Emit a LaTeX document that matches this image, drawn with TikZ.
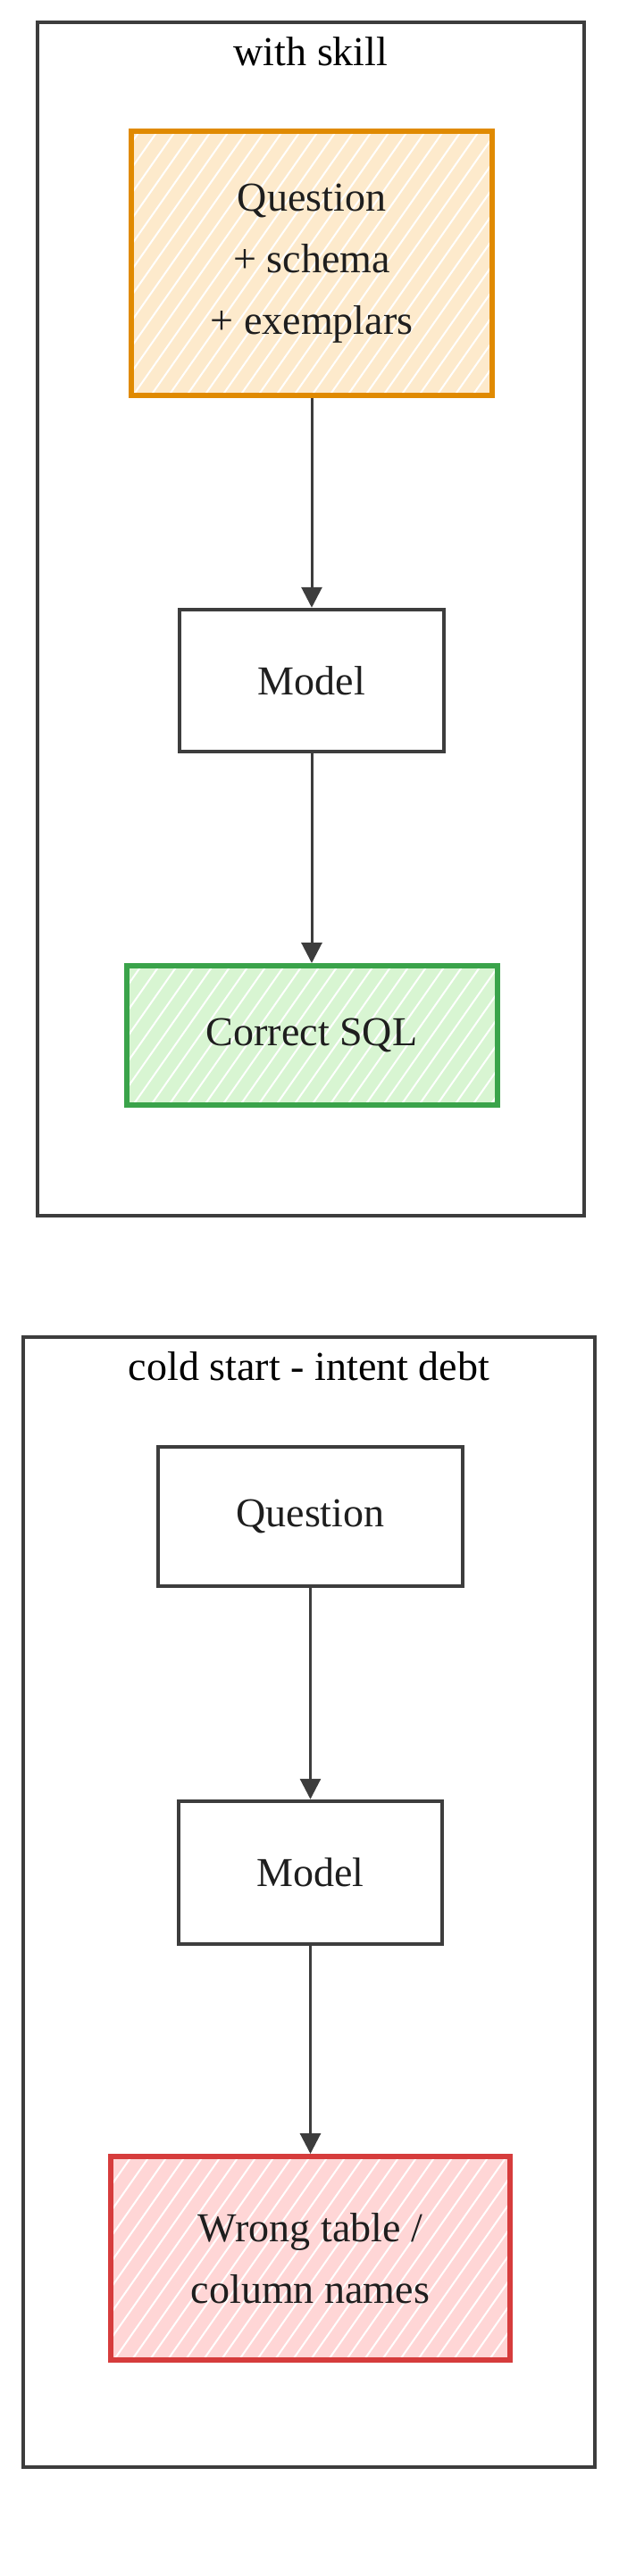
\documentclass[tikz,border=0pt]{standalone}
\usepackage{fontspec}
\setmainfont{Liberation Serif}
\usepackage{tikz}
\usetikzlibrary{arrows.meta}
\definecolor{dgray}{RGB}{61, 61, 61}
\definecolor{ink}{RGB}{30, 30, 30}
\definecolor{lorange}{RGB}{253, 234, 204}
\definecolor{dorange}{RGB}{224, 138, 0}
\definecolor{lgreen}{RGB}{216, 245, 210}
\definecolor{dgreen}{RGB}{58, 163, 74}
\definecolor{lred}{RGB}{255, 214, 214}
\definecolor{dred}{RGB}{214, 60, 60}

\tikzset{
	frame/.style = {rectangle, draw = dgray, line width = 0.08cm, inner sep = 0pt},
	box/.style = {rectangle, draw = dgray, line width = 0.09cm, inner sep = 0pt, align = center, text = ink},
	hatch/.style = {path picture = {\foreach \k in {-30,...,30} \draw[white, line width = 0.04cm] ([xshift = \k*0.4cm]path picture bounding box.south) -- ++(55:14cm);}},
	flow/.style = {-{Triangle[length = 0.46cm, width = 0.46cm]}, draw = dgray, line width = 0.06cm}
}

\begin{document}
\begin{tikzpicture}[font = \fontsize{26.2}{39.3}\selectfont]
			\useasboundingbox (0,0) rectangle (14.4,-57.72);
			% with skill
			\node (frameA) at (6.96,-13.87) [frame, minimum width = 12.24cm, minimum height = 26.74cm] {};
			\node (titleA) at (6.96,-1.16) {with skill};
			\node (qa) at (6.98,-5.9) [box, draw = dorange, fill = lorange, hatch, line width = 0.12cm, minimum width = 8.08cm, minimum height = 5.92cm] {Question\\+ schema\\+ exemplars};
			\node (ma) at (6.98,-15.25) [box, minimum width = 5.92cm, minimum height = 3.18cm] {Model};
			\node (ra) at (6.98,-23.2) [box, draw = dgreen, fill = lgreen, hatch, line width = 0.12cm, minimum width = 8.3cm, minimum height = 3.12cm] {Correct SQL};
			\draw[flow] (qa) -- (ma);
			\draw[flow] (ma) -- (ra);
			% cold start
			\node (frameB) at (6.92,-42.62) [frame, minimum width = 12.8cm, minimum height = 25.32cm] {};
			\node (titleB) at (6.92,-30.62) {cold start - intent debt};
			\node (qb) at (6.95,-33.98) [box, minimum width = 6.82cm, minimum height = 3.12cm] {Question};
			\node (mb) at (6.95,-41.96) [box, minimum width = 5.9cm, minimum height = 3.2cm] {Model};
			\node (rb) at (6.95,-50.6) [box, draw = dred, fill = lred, hatch, line width = 0.12cm, minimum width = 8.94cm, minimum height = 4.56cm] {Wrong table /\\column names};
			\draw[flow] (qb) -- (mb);
			\draw[flow] (mb) -- (rb);
\end{tikzpicture}
\end{document}
